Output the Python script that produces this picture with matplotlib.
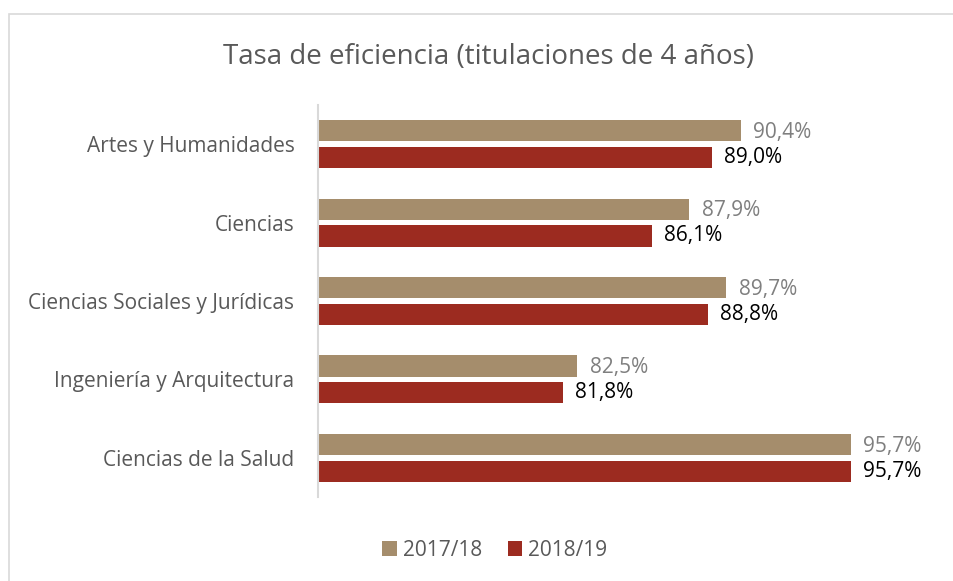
import numpy as np
import matplotlib.pyplot as plt
from matplotlib.patches import Rectangle

plt.rcParams['font.family'] = ['Open Sans', 'DejaVu Sans']

categories = ['Artes y Humanidades', 'Ciencias', 'Ciencias Sociales y Jurídicas',
              'Ingeniería y Arquitectura', 'Ciencias de la Salud']
series_names = ['2017/18', '2018/19']
v1718 = [90.4, 87.9, 89.7, 82.5, 95.7]
v1819 = [89.0, 86.1, 88.8, 81.8, 95.7]

c_tan = '#A58D6C'
c_red = '#9C2B20'

W, H = 954, 581
fig = plt.figure(figsize=(W / 100, H / 100), dpi=100)
ax = fig.add_axes([318 / W, 1 - 497 / H, (940 - 318) / W, (497 - 105) / H])

# outer chart frame (cut at right/bottom like the screenshot)
fig.patches.append(Rectangle((9.5 / W, -0.05), 1.2, 1 - 13.5 / H + 0.05,
                             transform=fig.transFigure, fill=False,
                             edgecolor='#D9D9D9', lw=1.2))

y = np.arange(len(categories))
h = 0.27
off = 0.17
b1 = ax.barh(y - off, v1718, height=h, left=0, color=c_tan, label=series_names[0])
b2 = ax.barh(y + off, v1819, height=h, left=0, color=c_red, label=series_names[1])

def fmt(v):
    return f'{v:.1f}%'.replace('.', ',')

for yi, v in zip(y, v1718):
    ax.text(v + 0.6, yi - off + 0.02, fmt(v), va='center', ha='left', fontsize=15, color='#7F7F7F')
for yi, v in zip(y, v1819):
    ax.text(v + 0.6, yi + off, fmt(v), va='center', ha='left', fontsize=15, color='black')

ax.set_xlim(70, 100)
ax.set_ylim(len(categories) - 0.5, -0.5)
ax.set_yticks(y)
ax.set_yticklabels(categories, fontsize=15, color='#595959')
ax.tick_params(axis='y', length=0, pad=17)
ax.set_xticks([])
for s in ['top', 'right', 'bottom']:
    ax.spines[s].set_visible(False)
ax.spines['left'].set_color('#D9D9D9')
ax.spines['left'].set_linewidth(1.5)

fig.text(489 / W, 1 - 57 / H, 'Tasa de eficiencia (titulaciones de 4 años)',
         ha='center', va='center', fontsize=20, color='#595959')

fig.legend(handles=[b1, b2], labels=series_names, loc='center',
           bbox_to_anchor=(495 / W, 1 - 550 / H), ncol=2, frameon=False,
           fontsize=15, labelcolor='#595959', handlelength=0.7, handleheight=0.7,
           handletextpad=0.3, columnspacing=1.2)

fig.savefig('out.png', dpi=100)
